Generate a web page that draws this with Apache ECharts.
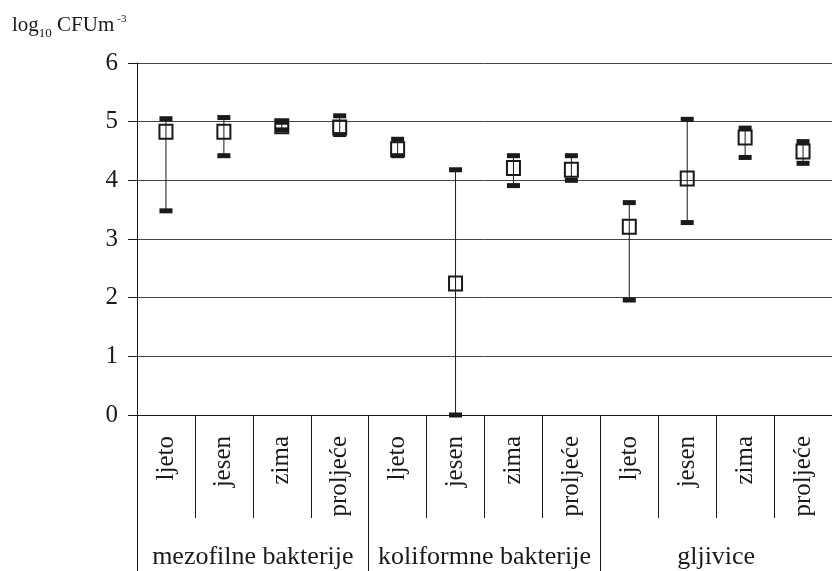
<!DOCTYPE html>
<html>
<head>
<meta charset="utf-8">
<script src="https://cdn.jsdelivr.net/npm/echarts@6/dist/echarts.min.js"></script>
<style>
  html, body { margin: 0; padding: 0; background: #fff; }
  #chart { width: 832px; height: 571px; }
</style>
</head>
<body>
<div id="chart"></div>
<script>
// sezone unutar svake skupine
const categories = ['ljeto', 'jesen', 'zima', 'proljeće',
                    'ljeto', 'jesen', 'zima', 'proljeće',
                    'ljeto', 'jesen', 'zima', 'proljeće'];
const groups = ['mezofilne bakterije', 'koliformne bakterije', 'gljivice'];

// log10 CFU m-3, očitano sa slike
const means = [4.83, 4.83, 4.92, 4.90, 4.53, 2.24, 4.21, 4.18, 3.21, 4.03, 4.73, 4.49];
const maxs  = [5.05, 5.07, 4.99, 5.10, 4.70, 4.18, 4.42, 4.42, 3.62, 5.04, 4.89, 4.66];
const mins  = [3.48, 4.42, 4.86, 4.78, 4.42, 0.00, 3.91, 4.00, 1.96, 3.28, 4.39, 4.29];

const yTicks = [0, 1, 2, 3, 4, 5, 6];

const serif = '"Liberation Serif", "DejaVu Serif", serif';
const ink = '#1a1a1a';

const chart = echarts.init(document.getElementById('chart'));

const seriesData = categories.map((c, i) => [i, mins[i], maxs[i], means[i]]);

function renderItem(params, api) {
  const lo = api.coord([api.value(0), api.value(1)]);
  const hi = api.coord([api.value(0), api.value(2)]);
  const mid = api.coord([api.value(0), api.value(3)]);
  return {
    type: 'group',
    children: [
      { type: 'line', shape: { x1: lo[0], y1: lo[1], x2: hi[0], y2: hi[1] },
        style: { stroke: ink, lineWidth: 1 } },
      { type: 'rect', shape: { x: lo[0] - 6.5, y: lo[1] - 2.5, width: 13, height: 5 },
        style: { fill: ink } },
      { type: 'rect', shape: { x: hi[0] - 6.5, y: hi[1] - 2.5, width: 13, height: 5 },
        style: { fill: ink } },
      { type: 'rect', shape: { x: mid[0] - 6.5, y: mid[1] - 7, width: 13, height: 14 },
        style: { fill: 'none', stroke: ink, lineWidth: 2 } }
    ]
  };
}

const option = {
  backgroundColor: '#fff',
  animation: false,
  grid: { left: 137, top: 63, width: 707, bottom: 156 },
  graphic: [{
    type: 'text',
    left: 12,
    top: 10,
    style: {
      text: '{m|log}{s|10}{m| CFUm}{p|-3}',
      fill: ink,
      rich: {
        m: { fontFamily: serif, fontSize: 21, lineHeight: 30, verticalAlign: 'middle', fill: ink },
        s: { fontFamily: serif, fontSize: 13, lineHeight: 30, verticalAlign: 'bottom', fill: ink },
        p: { fontFamily: serif, fontSize: 11, lineHeight: 30, verticalAlign: 'top', fill: ink, padding: [4, 0, 0, 3] }
      }
    }
  }],
  xAxis: [{
    type: 'category',
    data: categories,
    boundaryGap: true,
    axisLine: { show: true, lineStyle: { color: ink, width: 1 } },
    axisTick: { show: true, interval: 0, length: 103, lineStyle: { color: ink, width: 1 } },
    axisLabel: {
      interval: 0, rotate: 90, margin: 21,
      fontFamily: serif, fontSize: 25, color: ink
    },
    splitLine: { show: false }
  }, {
    type: 'category',
    data: groups,
    position: 'bottom',
    boundaryGap: true,
    axisLine: { show: false },
    axisTick: { show: true, interval: 0, length: 160, lineStyle: { color: ink, width: 1 } },
    axisLabel: {
      interval: 0, margin: 129,
      fontFamily: serif, fontSize: 26, color: ink
    },
    splitLine: { show: false }
  }],
  yAxis: {
    type: 'value',
    min: yTicks[0],
    max: yTicks[yTicks.length - 1],
    interval: 1,
    axisLine: { show: true, lineStyle: { color: ink, width: 1 } },
    axisTick: { show: true, length: 9, lineStyle: { color: ink } },
    axisLabel: { margin: 19, fontFamily: serif, fontSize: 25, color: ink },
    splitLine: { show: true, lineStyle: { color: '#444', width: 1 } }
  },
  series: [{
    type: 'custom',
    xAxisIndex: 0,
    renderItem: renderItem,
    encode: { x: 0, y: [1, 2, 3] },
    data: seriesData,
    clip: false
  }]
};

chart.setOption(option);
</script>
</body>
</html>
